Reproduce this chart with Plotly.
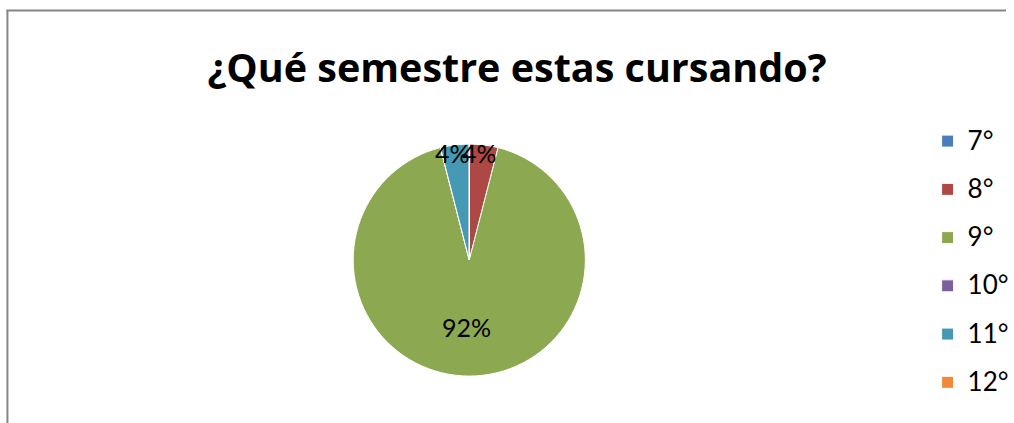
import math
import plotly.graph_objects as go

# ---- data ----
categories = ["7°", "8°", "9°", "10°", "11°", "12°"]
counts = [0, 1, 23, 0, 1, 0]
colors = ["#4A7EBB", "#AD4845", "#8CA850", "#7D60A0", "#4699B4", "#F08A3A"]
title_text = "¿Qué semestre estas cursando?"

W, H = 1014, 423
# pie geometry in pixels
CX, CY, R = 470, 260, 117
DOMAIN_DX = 3  # compensation for plotly's pie placement

def px_x(x):
    return x / W

def px_y(y):
    return 1 - y / H

fig = go.Figure()
fig.add_trace(go.Pie(
    labels=[f"<span style='font-size:26px;baseline-shift:5px'>{c}</span>" for c in categories],
    values=counts,
    sort=False,
    direction="clockwise",
    rotation=0,
    marker=dict(colors=colors, line=dict(color="#FFFFFF", width=1)),
    textinfo="none",
    hoverinfo="label+percent",
    showlegend=True,
    domain=dict(x=[px_x(CX - R + DOMAIN_DX), px_x(CX + R + DOMAIN_DX)],
                y=[px_y(CY + R), px_y(CY - R)]),
))

# percentage labels computed from the data
total = sum(counts)
cum = 0
annotations = []
for c, v in zip(categories, counts):
    if v > 0:
        frac = v / total
        mid = (cum + frac / 2) * 2 * math.pi
        f = 0.57 if frac > 0.5 else 0.92
        lx = CX + f * R * math.sin(mid)
        ly = CY - f * R * math.cos(mid)
        annotations.append(dict(
            x=px_x(lx), y=px_y(ly), xref="paper", yref="paper",
            text=f"{round(frac * 100)}%", showarrow=False,
            font=dict(family="Lato", size=25, color="#000000"),
            xanchor="center", yanchor="middle",
        ))
    cum += v / total

fig.update_layout(
    width=W, height=H,
    margin=dict(l=0, r=0, t=0, b=0),
    paper_bgcolor="#FFFFFF",
    plot_bgcolor="#FFFFFF",
    title=dict(text=f"<b>{title_text}</b>", x=px_x(517), y=px_y(68),
               xanchor="center", yanchor="middle",
               font=dict(family="Open Sans", size=39.5, color="#000000")),
    legend=dict(x=px_x(935), y=px_y(112), xanchor="left", yanchor="top",
                font=dict(family="Lato", size=34.8, color="#000000"),
                bgcolor="rgba(0,0,0,0)", traceorder="normal", maxheight=400),
    annotations=annotations,
    shapes=[
        dict(type="line", xref="paper", yref="paper", x0=px_x(7.5), x1=px_x(7.5),
             y0=0, y1=px_y(10), line=dict(color="#868686", width=2)),
        dict(type="line", xref="paper", yref="paper", x0=px_x(6.5), x1=1,
             y0=px_y(10.5), y1=px_y(10.5), line=dict(color="#868686", width=2)),
    ],
)

fig.write_html("out.html", config={"displayModeBar": False},
               post_script="document.body.style.margin='0';document.body.style.overflow='hidden';")
